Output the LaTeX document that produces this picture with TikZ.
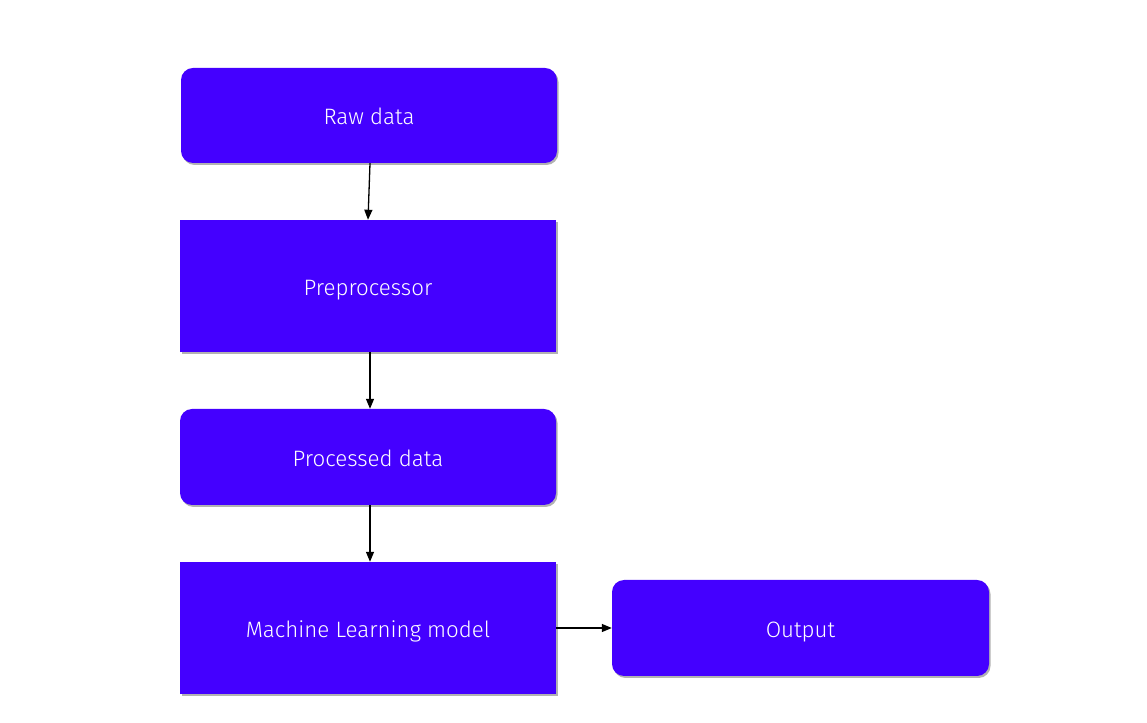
\documentclass[tikz,border=0pt]{standalone}
\usepackage{fontspec}
\setmainfont{Fira Sans Light}
\usetikzlibrary{arrows.meta,shadows,calc}
\definecolor{boxblue}{HTML}{4400FF}
\tikzset{
  x=1pt,y=1pt,
  box/.style={fill=boxblue,draw=none,text=white,font=\fontsize{22.3}{26}\selectfont,
    inner sep=0pt,text height=19pt,text depth=0pt,
    drop shadow={shadow xshift=1.5pt,shadow yshift=-2pt,opacity=0.3,fill=black}},
  roundbox/.style={box,rounded corners=12pt},
  conn/.style={line width=1.3pt,-{Triangle[length=10pt,width=8pt]}}
}
\begin{document}
\begin{tikzpicture}
\useasboundingbox (0,0) rectangle (1147,722);
\node[roundbox,minimum width=376pt,minimum height=95pt] (raw) at (369,722-115.5) {Raw data};
\node[box,minimum width=376pt,minimum height=132pt] (pre) at (368,722-286) {Preprocessor};
\node[roundbox,minimum width=376pt,minimum height=96pt] (proc) at (368,722-457) {Processed data};
\node[box,minimum width=376pt,minimum height=132pt] (ml) at (368,722-628) {Machine Learning model};
\node[roundbox,minimum width=377pt,minimum height=96pt] (out) at (800.5,722-628) {Output};
\draw[conn] ($(raw.south)+(1,0)$) -- (pre.north);
\draw[conn] ($(pre.south)+(2,0)$) -- ($(proc.north)+(2,0)$);
\draw[conn] ($(proc.south)+(2,0)$) -- ($(ml.north)+(2,0)$);
\draw[conn] (ml.east) -- (out.west);
\end{tikzpicture}
\end{document}
